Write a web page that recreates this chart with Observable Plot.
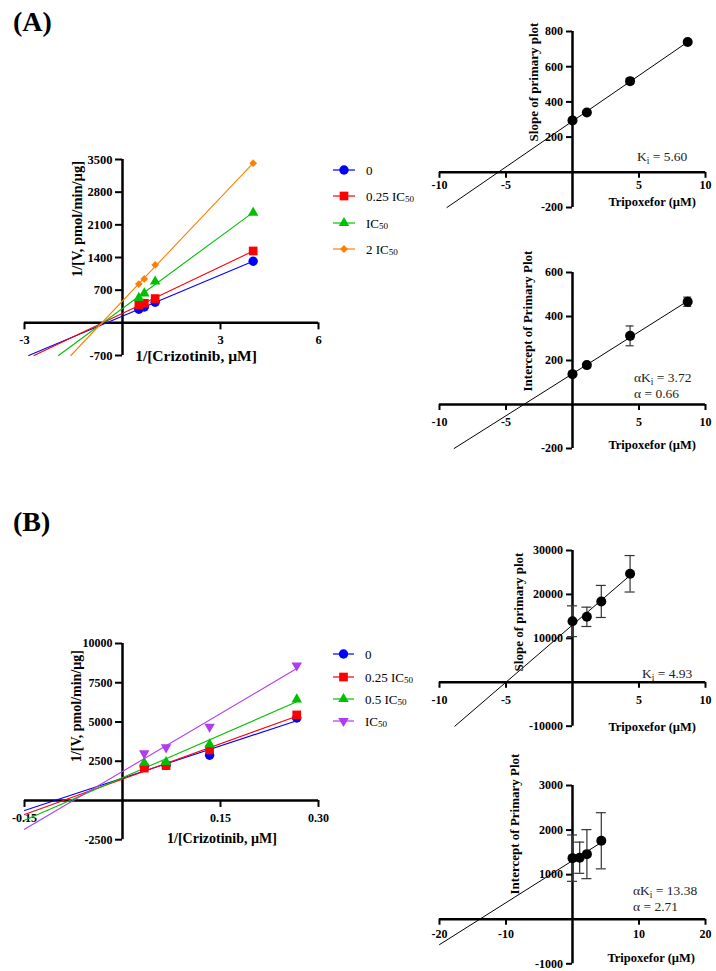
<!DOCTYPE html>
<html>
<head>
<meta charset="utf-8">
<script src="https://cdn.jsdelivr.net/npm/d3@7"></script>
<script src="https://cdn.jsdelivr.net/npm/@observablehq/plot@0.6"></script>
<style>
  html, body { margin: 0; padding: 0; background: #fff; }
  #page { position: relative; width: 716px; height: 971px; overflow: hidden; background: #fff;
          font-family: "Liberation Serif", "Times New Roman", serif; color: #000; }
  .abs { position: absolute; white-space: nowrap; line-height: 1; }
  .panel { font-weight: bold; font-size: 28px; }
  .ytitle { font-weight: bold; transform: translate(-50%, -50%) rotate(-90deg); }
  .xtitle { font-weight: bold; transform: translate(-50%, -50%); }
  .xtitleR { font-weight: bold; font-size: 12.5px; transform: translate(-100%, -50%); }
  .note { font-size: 13.5px; color: #222; transform: translateY(-50%); }
  .leg { font-size: 13px; transform: translateY(-50%); display: flex; align-items: center; }
  sub { font-size: 70%; vertical-align: baseline; position: relative; top: 0.35em; }
  svg { overflow: visible; }
</style>
</head>
<body>
<div id="page"></div>
<script>
// ================= DATA =================
// Panel A – primary (Lineweaver–Burk) plot
const aInvS   = [0.5, 0.667, 1, 4];            // 1/[Crizotinib, µM]
const aLabels = ["0", "0.25 IC50", "IC50", "2 IC50"];
const aV0     = [290, 340, 440, 1320];
const aV025   = [390, 420, 520, 1540];
const aV1     = [535, 630, 885, 2360];
const aV2     = [830, 940, 1240, 3420];
const aXTicks = [-3, 3, 6];
const aYTicks = [-700, 700, 1400, 2100, 2800, 3500];

// Panel A – secondary plots
const aTrip      = [0, 1.08, 4.33, 8.66];      // Tripoxefor (µM)
const aSlope     = [295, 340, 518, 740];
const aSlopeErr  = [6, 5, 15, 8];
const aInt       = [138, 179, 312, 467];
const aIntErr    = [8, 6, 45, 21];
const aSecXTicks = [-10, -5, 5, 10];
const aSlopeYTicks = [-200, 200, 400, 600, 800];
const aIntYTicks   = [-200, 200, 400, 600];
const aSlopeNote = "K<sub>i</sub> = 5.60";
const aIntNote1  = "αK<sub>i</sub> = 3.72";
const aIntNote2  = "α = 0.66";

// Panel B – primary plot
const bInvS   = [0.0333, 0.0667, 0.1333, 0.2667];
const bLabels = ["0", "0.25 IC50", "0.5 IC50", "IC50"];
const bV0     = [2160, 2250, 2880, 5250];
const bV025   = [2060, 2220, 3220, 5450];
const bV05    = [2400, 2450, 3580, 6440];
const bV1     = [3000, 3380, 4700, 8600];
const bXTicks = [-0.15, 0.15, 0.30];
const bYTicks = [-2500, 2500, 5000, 7500, 10000];

// Panel B – secondary plots
const bTrip      = [0, 1.08, 2.165, 4.33];
const bSlope     = [13900, 14900, 18400, 24700];
const bSlopeErr  = [3500, 2200, 3650, 4150];
const bInt       = [1370, 1380, 1460, 1760];
const bIntErr    = [520, 350, 550, 630];
const bSlopeXTicks = [-10, -5, 5, 10];
const bSlopeYTicks = [-10000, 10000, 20000, 30000];
const bIntXTicks   = [-20, -10, 10, 20];
const bIntYTicks   = [-1000, 1000, 2000, 3000];
const bSlopeNote = "K<sub>i</sub> = 4.93";
const bIntNote1  = "αK<sub>i</sub> = 13.38";
const bIntNote2  = "α = 2.71";

// ================= STYLE =================
const SERIF = "Liberation Serif, Times New Roman, serif";
const sqrt3 = Math.sqrt(3);
const triangleDown = {
  draw(ctx, size) {
    const y = -Math.sqrt(size / (sqrt3 * 3));
    ctx.moveTo(0, -y * 2);
    ctx.lineTo(-sqrt3 * y, y);
    ctx.lineTo(sqrt3 * y, y);
    ctx.closePath();
  }
};
const diamondSq = {
  draw(ctx, size) {
    const h = Math.sqrt(size / 2);
    ctx.moveTo(0, -h); ctx.lineTo(h, 0); ctx.lineTo(0, h); ctx.lineTo(-h, 0); ctx.closePath();
  }
};
const aStyles = [
  {color: "#0000ff", symbol: d3.symbolCircle, r: 4.7},
  {color: "#ff0000", symbol: d3.symbolSquare, r: 4.9},
  {color: "#00c000", symbol: d3.symbolTriangle, r: 3.9},
  {color: "#ff8000", symbol: diamondSq, r: 3.1}
];
const bStyles = [
  {color: "#0000ff", symbol: d3.symbolCircle, r: 4.7},
  {color: "#ff0000", symbol: d3.symbolSquare, r: 4.9},
  {color: "#00c000", symbol: d3.symbolTriangle, r: 3.9},
  {color: "#b03cf0", symbol: triangleDown, r: 3.9}
];

const page = document.getElementById("page");

// ================= HELPERS =================
function fit(xs, ys) {
  const mx = d3.mean(xs), my = d3.mean(ys);
  let sxy = 0, sxx = 0;
  xs.forEach((x, i) => { sxy += (x - mx) * (ys[i] - my); sxx += (x - mx) ** 2; });
  const m = sxy / sxx;
  return {m, b: my - m * mx};
}
function fitSegment(xs, ys, xMin, yMin) {
  const {m, b} = fit(xs, ys);
  const x0 = Math.max(xMin, (yMin - b) / m);
  const x1 = d3.max(xs);
  return [{x: x0, y: m * x0 + b}, {x: x1, y: m * x1 + b}];
}
function rows(xs, ys, es) {
  return xs.map((x, i) => ({x, y: ys[i], e: es ? es[i] : 0}));
}
function crossAxes(o) {
  return [
    Plot.ruleY([0], {stroke: "#000", strokeWidth: 2.5}),
    Plot.ruleX([0], {stroke: "#000", strokeWidth: 2.5}),
    Plot.ruleX(o.xTicks, {x: d => d, y1: () => 0, y2: () => 0, insetBottom: -o.tickLen, stroke: "#000", strokeWidth: 2}),
    Plot.ruleY(o.yTicks, {y: d => d, x1: () => 0, x2: () => 0, insetLeft: -o.tickLen, stroke: "#000", strokeWidth: 2}),
    Plot.text(o.xTicks, {x: d => d, y: () => 0, dy: o.xdy, text: o.xFmt, fontWeight: "bold", fontSize: o.fs, fill: "#000"}),
    Plot.text(o.yTicks, {x: () => 0, y: d => d, dx: -o.ydx, textAnchor: "end", text: o.yFmt, fontWeight: "bold", fontSize: o.fs, fill: "#000"})
  ];
}
function crossPlot(frame, o, marks) {
  const pad = {l: 10, r: 10, t: 10, b: 25};
  const chart = Plot.plot({
    width: frame.x1 - frame.x0 + pad.l + pad.r,
    height: frame.yb - frame.yt + pad.t + pad.b,
    marginLeft: pad.l, marginRight: pad.r, marginTop: pad.t, marginBottom: pad.b,
    x: {domain: o.xDomain, axis: null},
    y: {domain: o.yDomain, axis: null},
    style: {fontFamily: SERIF, background: "transparent", overflow: "visible", color: "#000"},
    marks: [...crossAxes(o), ...marks]
  });
  chart.style.position = "absolute";
  chart.style.left = (frame.x0 - pad.l) + "px";
  chart.style.top = (frame.yt - pad.t) + "px";
  page.appendChild(chart);
}
function html(cls, content, left, top, extra) {
  const d = document.createElement("div");
  d.className = "abs " + cls;
  d.innerHTML = content;
  d.style.left = left + "px";
  d.style.top = top + "px";
  if (extra) Object.assign(d.style, extra);
  page.appendChild(d);
  return d;
}
function fmtLabel(s) { return s.replace("IC50", "IC<sub>50</sub>"); }
function legend(labels, styles, lineX0, lineX1, labelX, ys) {
  labels.forEach((lab, i) => {
    const st = styles[i];
    const w = lineX1 - lineX0;
    const size = Math.PI * st.r * st.r;
    const path = d3.symbol().type(st.symbol).size(size)();
    const svg = `<svg width="${w}" height="14" style="position:absolute;left:0;top:-7px">
      <line x1="0" x2="${w}" y1="7" y2="7" stroke="${st.color}" stroke-width="1.2"/>
      <path d="${path}" transform="translate(${w / 2},7)" fill="${st.color}"/></svg>`;
    html("", svg, lineX0, ys[i], {width: w + "px", height: "0px"});
    html("leg", fmtLabel(lab), labelX, ys[i]);
  });
}
function primaryMarks(xs, series, styles, xMin, yMin) {
  const m = [];
  series.forEach((ys, i) => {
    m.push(Plot.line(fitSegment(xs, ys, xMin, yMin), {x: "x", y: "y", stroke: styles[i].color, strokeWidth: 1.1}));
  });
  series.forEach((ys, i) => {
    m.push(Plot.dot(rows(xs, ys), {x: "x", y: "y", r: styles[i].r, symbol: styles[i].symbol, fill: styles[i].color, stroke: "none"}));
  });
  return m;
}
function secondaryMarks(xs, ys, es, xMin, yMin, cap) {
  const data = rows(xs, ys, es);
  return [
    Plot.line(fitSegment(xs, ys, xMin, yMin), {x: "x", y: "y", stroke: "#000", strokeWidth: 1}),
    Plot.ruleX(data, {x: "x", y1: d => d.y - d.e, y2: d => d.y + d.e, stroke: "#333", strokeWidth: 1.2}),
    Plot.ruleY(data, {y: d => d.y + d.e, x1: "x", x2: "x", insetLeft: -cap, insetRight: -cap, stroke: "#333", strokeWidth: 1.2}),
    Plot.ruleY(data, {y: d => d.y - d.e, x1: "x", x2: "x", insetLeft: -cap, insetRight: -cap, stroke: "#333", strokeWidth: 1.2}),
    Plot.dot(data, {x: "x", y: "y", r: 5, fill: "#000", stroke: "none"})
  ];
}

// ================= PANEL LABELS =================
html("panel", "(A)", 13, 8);
html("panel", "(B)", 13, 508);

// ================= PANEL A =================
crossPlot({x0: 24, x1: 318, yt: 159, yb: 355},
  {xDomain: [-3, 6], yDomain: [-700, 3500], xTicks: aXTicks, yTicks: aYTicks,
   xFmt: d => String(d), yFmt: d => String(d), tickLen: 7, xdy: 17, ydx: 10, fs: 12.5},
  primaryMarks(aInvS, [aV0, aV025, aV1, aV2], aStyles, -3, -700));
html("ytitle", "1/[V, pmol/min/µg]", 77, 219, {fontSize: "14.5px"});
html("xtitle", "1/[Crizotinib, µM]", 196, 356, {fontSize: "15.5px"});
legend(aLabels, aStyles, 333, 355, 366, [170, 196, 222.7, 249.3]);

crossPlot({x0: 439.3, x1: 705.3, yt: 31.3, yb: 207.3},
  {xDomain: [-10, 10], yDomain: [-200, 800], xTicks: aSecXTicks, yTicks: aSlopeYTicks,
   xFmt: d => String(d), yFmt: d => String(d), tickLen: 6, xdy: 12.5, ydx: 9.5, fs: 12},
  secondaryMarks(aTrip, aSlope, aSlopeErr, -10, -200, 4));
html("ytitle", "Slope of primary plot", 533, 82, {fontSize: "13px"});
html("xtitleR", "Tripoxefor (µM)", 696, 202);
html("note", aSlopeNote, 637, 157);

crossPlot({x0: 439.3, x1: 705.3, yt: 272.3, yb: 448.3},
  {xDomain: [-10, 10], yDomain: [-200, 600], xTicks: aSecXTicks, yTicks: aIntYTicks,
   xFmt: d => String(d), yFmt: d => String(d), tickLen: 6, xdy: 18, ydx: 9.5, fs: 12},
  secondaryMarks(aTrip, aInt, aIntErr, -10, -200, 4));
html("ytitle", "Intercept of Primary Plot", 527, 321, {fontSize: "13px"});
html("xtitleR", "Tripoxefor (µM)", 696, 445);
html("note", aIntNote1, 634, 378);
html("note", aIntNote2, 634, 394);

// ================= PANEL B =================
crossPlot({x0: 24, x1: 318, yt: 643.3, yb: 839.5},
  {xDomain: [-0.15, 0.30], yDomain: [-2500, 10000], xTicks: bXTicks, yTicks: bYTicks,
   xFmt: d => d.toFixed(2), yFmt: d => String(d), tickLen: 7, xdy: 18, ydx: 10, fs: 12},
  primaryMarks(bInvS, [bV0, bV025, bV05, bV1], bStyles, -0.15, -2500));
html("ytitle", "1/[V, pmol/min/µg]", 77, 706, {fontSize: "14px"});
html("xtitle", "1/[Crizotinib, µM]", 222, 839, {fontSize: "14px"});
legend(bLabels, bStyles, 333, 354, 365, [654, 677, 699, 721]);

crossPlot({x0: 439.3, x1: 705.3, yt: 550, yb: 725.7},
  {xDomain: [-10, 10], yDomain: [-10000, 30000], xTicks: bSlopeXTicks, yTicks: bSlopeYTicks,
   xFmt: d => String(d), yFmt: d => String(d), tickLen: 6, xdy: 17.5, ydx: 9.5, fs: 12},
  secondaryMarks(bTrip, bSlope, bSlopeErr, -10, -10000, 5));
html("ytitle", "Slope of primary plot", 518, 612, {fontSize: "13px"});
html("xtitleR", "Tripoxefor (µM)", 696, 727);
html("note", bSlopeNote, 642, 674);

crossPlot({x0: 439.3, x1: 705.3, yt: 785, yb: 963.3},
  {xDomain: [-20, 20], yDomain: [-1000, 3000], xTicks: bIntXTicks, yTicks: bIntYTicks,
   xFmt: d => String(d), yFmt: d => String(d), tickLen: 6, xdy: 15, ydx: 9.5, fs: 12},
  secondaryMarks(bTrip, bInt, bIntErr, -20, -1000, 5));
html("ytitle", "Intercept of Primary Plot", 514, 824, {fontSize: "13px"});
html("xtitleR", "Tripoxefor (µM)", 695, 958);
html("note", bIntNote1, 633, 891);
html("note", bIntNote2, 633, 907);
</script>
</body>
</html>
